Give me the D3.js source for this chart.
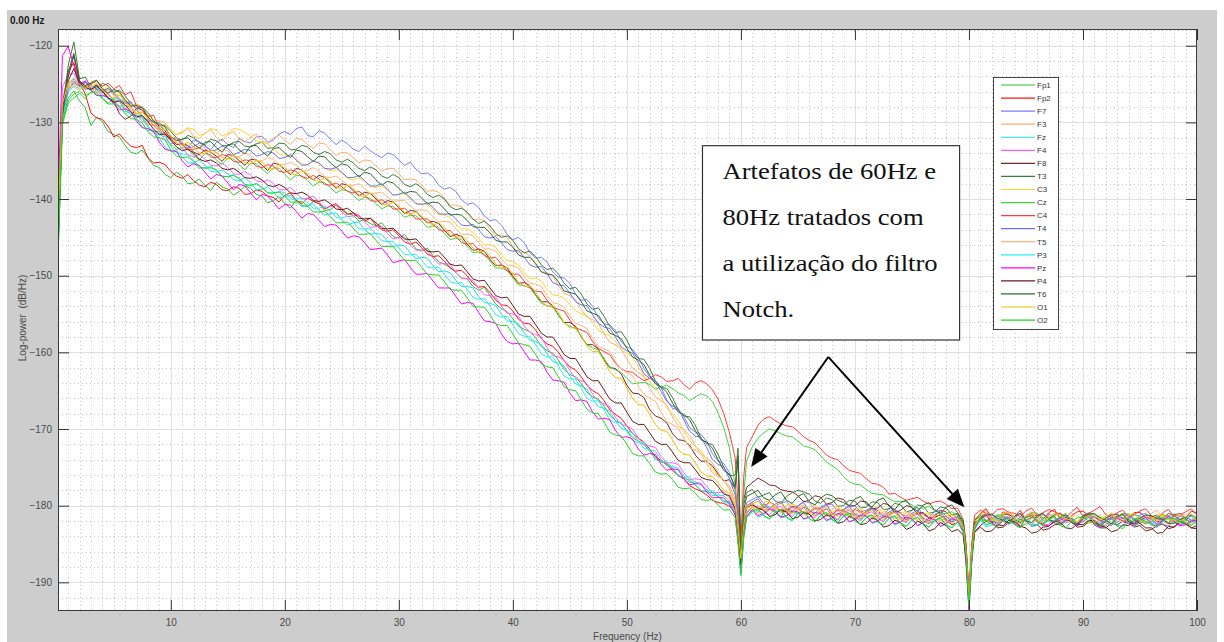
<!DOCTYPE html>
<html>
<head>
<meta charset="utf-8">
<script src="https://cdn.jsdelivr.net/npm/d3@7"></script>
<style>
  html, body { margin: 0; padding: 0; background: #ffffff; }
  svg { display: block; }
</style>
</head>
<body>
<svg id="chart" width="1224" height="642"></svg>
<script>
// Frequency bins (Hz) shared by every channel spectrum
const freqs = [0.11,0.5,1,1.5,
  2,2.5,3,3.5,4,4.5,5,5.5,6,6.5,
  7,7.5,8,8.5,9,9.5,10,10.5,11,11.5,
  12,12.5,13,13.5,14,14.5,15,15.5,16,16.5,
  17,17.5,18,18.5,19,19.5,20,20.5,21,21.5,
  22,22.5,23,23.5,24,24.5,25,25.5,26,26.5,
  27,27.5,28,28.5,29,29.5,30,30.5,31,31.5,
  32,32.5,33,33.5,34,34.5,35,35.5,36,36.5,
  37,37.5,38,38.5,39,39.5,40,40.5,41,41.5,
  42,42.5,43,43.5,44,44.5,45,45.5,46,46.5,
  47,47.5,48,48.5,49,49.5,50,50.5,51,51.5,
  52,52.5,53,53.5,54,54.5,55,55.5,56,56.5,
  57,57.5,58,58.5,59,
  59.5,59.75,60,60.25,60.5,
  61,61.5,62,62.5,63,63.5,64,64.5,65,65.5,
  66,66.5,67,67.5,68,68.5,69,69.5,70,70.5,
  71,71.5,72,72.5,73,73.5,74,74.5,75,75.5,
  76,76.5,77,77.5,78,78.5,79,
  79.5,79.75,80,80.25,80.5,
  81,81.5,82,82.5,83,83.5,84,84.5,85,85.5,
  86,86.5,87,87.5,88,88.5,89,89.5,90,90.5,
  91,91.5,92,92.5,93,93.5,94,94.5,95,95.5,
  96,96.5,97,97.5,98,98.5,99,99.5,100];

// Channel names and their line colours
const channelNames = ["Fp1","Fp2","F7","F3","Fz","F4","F8","T3","C3","Cz","C4","T4","T5","P3","Pz","P4","T6","O1","O2"];
const channelColors = ["#2fbf2f","#ff1010","#7b7bff","#ffad6b","#1fe0e0","#ff5cff","#7d2525","#3d7d3d","#ffd42a","#3fd43f","#ff3b3b","#6f6ff2","#ffb577","#2cecec","#ff00ff","#6a1a1a","#2b6b2b","#f0c000","#22d822"];

// Log-power spectra (dB/Hz), one value per frequency bin
const Fp1 = [-146.5,-129.8,-126.8,-125.9,
  -127.2,-128.1,-130.4,-129.3,-129.9,-131.2,-131.6,-131.9,-133.0,-133.9,
  -134.1,-133.6,-134.7,-135.6,-135.9,-136.8,-137.2,-136.5,-137.0,-138.0,
  -137.9,-137.4,-138.2,-138.9,-137.8,-138.4,-138.7,-139.5,-139.0,-138.3,
  -138.6,-139.4,-139.6,-140.5,-140.2,-139.7,-140.6,-141.2,-140.1,-140.8,
  -141.0,-140.3,-140.6,-141.5,-141.4,-140.8,-141.2,-141.9,-142.1,-142.9,
  -142.7,-143.2,-143.5,-143.1,-144.0,-144.9,-145.1,-144.6,-145.6,-146.5,
  -146.8,-146.4,-147.4,-148.2,-148.5,-148.9,-149.6,-150.3,-150.4,-151.4,
  -151.9,-151.5,-152.6,-153.7,-154.3,-154.7,-155.6,-156.6,-157.0,-157.3,
  -158.1,-159.2,-159.8,-160.1,-161.0,-162.2,-162.9,-163.2,-164.1,-165.2,
  -165.8,-166.1,-167.0,-168.2,-168.9,-169.3,-170.2,-171.1,-171.6,-172.0,
  -172.9,-173.8,-174.3,-174.5,-175.2,-176.0,-176.4,-176.7,-177.3,-178.0,
  -178.2,-178.3,-178.8,-179.4,-179.5,
  -180.6,-183.0,-187.4,-183.6,-181.0,
  -180.2,-180.9,-179.8,-180.4,-180.9,-181.5,-180.3,-180.7,-181.1,-180.2,
  -180.5,-181.3,-180.9,-180.4,-181.4,-181.9,-180.6,-181.0,-181.2,-181.8,
  -180.8,-180.5,-181.5,-182.1,-181.0,-180.7,-181.7,-182.2,-181.2,-181.0,
  -181.6,-182.3,-182.0,-181.5,-181.4,-182.1,-181.8,
  -182.6,-185.9,-192.8,-186.0,-182.3,
  -181.6,-182.5,-182.2,-181.4,-181.3,-182.0,-181.9,-182.7,-182.4,-181.6,
  -181.5,-182.2,-181.8,-181.3,-182.6,-182.0,-181.7,-182.4,-181.2,-181.6,
  -182.0,-182.8,-182.5,-181.7,-181.4,-181.1,-181.9,-182.6,-182.3,-181.8,
  -181.6,-182.4,-181.1,-181.7,-182.1,-182.5,-181.8,-181.3,-182.4];

const Fp2 = [-143.2,-127.5,-123.4,-122.2,
  -124.9,-126.3,-128.8,-129.4,-129.6,-130.5,-131.9,-131.5,-132.4,-133.1,
  -133.3,-133.0,-134.6,-135.3,-135.2,-135.5,-136.4,-137.0,-137.3,-136.8,
  -137.6,-138.2,-138.4,-137.8,-138.1,-138.8,-138.9,-138.4,-138.6,-139.4,
  -139.3,-138.8,-139.0,-139.6,-139.8,-140.4,-139.5,-139.2,-140.2,-140.6,
  -139.9,-140.3,-140.6,-141.3,-140.9,-140.6,-141.4,-142.0,-141.8,-142.2,
  -142.9,-142.5,-143.4,-144.0,-144.2,-144.0,-144.8,-145.6,-145.9,-145.6,
  -146.3,-147.2,-147.5,-147.4,-148.1,-149.0,-149.4,-149.3,-150.0,-151.0,
  -151.5,-151.4,-152.2,-153.2,-153.8,-153.9,-154.6,-155.7,-156.2,-156.3,
  -157.1,-158.2,-158.9,-159.2,-160.0,-161.1,-161.9,-162.3,-163.2,-164.3,
  -165.0,-165.4,-166.3,-167.5,-168.1,-168.6,-169.6,-170.6,-171.2,-171.7,
  -172.6,-173.6,-174.1,-174.6,-175.4,-176.1,-176.5,-177.4,-177.8,-178.1,
  -178.6,-179.3,-179.6,-179.7,-180.1,
  -180.9,-183.8,-186.5,-182.9,-180.4,
  -179.6,-180.6,-180.3,-179.5,-179.9,-180.8,-180.7,-180.1,-180.2,-181.0,
  -180.9,-180.3,-180.4,-181.3,-181.2,-180.5,-180.7,-181.5,-180.4,-180.9,
  -181.1,-180.3,-180.6,-181.4,-181.3,-180.7,-180.9,-181.8,-181.5,-180.8,
  -181.0,-181.7,-181.4,-180.6,-180.8,-181.6,-181.5,
  -182.1,-185.2,-191.6,-185.4,-181.9,
  -181.0,-180.4,-181.6,-181.9,-180.8,-181.2,-181.4,-180.6,-181.9,-181.5,
  -181.2,-181.8,-180.9,-180.5,-181.7,-181.9,-181.3,-180.8,-180.7,-181.3,
  -181.5,-182.0,-181.8,-181.2,-181.1,-181.7,-181.6,-180.9,-180.9,-181.5,
  -181.4,-182.1,-181.9,-181.0,-181.2,-181.8,-181.6,-180.7,-181.0];

const F7 = [-145.1,-128.6,-125.3,-124.6,
  -125.0,-124.6,-125.6,-125.2,-126.1,-125.5,-126.0,-126.9,-127.4,-127.6,
  -128.2,-129.2,-129.9,-129.8,-130.6,-131.6,-132.4,-132.0,-132.9,-133.4,
  -132.3,-132.5,-133.1,-133.6,-132.6,-132.2,-132.9,-133.3,-132.1,-132.5,
  -132.7,-131.9,-131.8,-132.6,-132.3,-131.5,-131.2,-131.6,-130.8,-130.6,
  -131.7,-131.9,-131.1,-131.4,-132.2,-132.9,-132.3,-132.8,-133.5,-133.8,
  -133.1,-133.7,-134.2,-134.6,-134.0,-134.2,-134.9,-135.6,-135.2,-136.1,
  -136.7,-136.6,-137.1,-138.2,-138.7,-138.5,-139.0,-140.1,-140.7,-140.5,
  -141.1,-142.2,-142.8,-142.7,-143.4,-144.6,-145.3,-145.0,-145.7,-147.0,
  -147.7,-147.6,-148.2,-149.5,-150.2,-150.3,-151.0,-152.4,-153.2,-153.1,
  -154.0,-155.5,-156.3,-156.4,-157.2,-158.6,-159.3,-159.6,-160.6,-162.1,
  -163.2,-163.7,-164.6,-166.2,-167.3,-167.5,-168.4,-169.8,-170.4,-170.7,
  -171.6,-173.2,-174.2,-174.5,-175.7,
  -177.9,-180.5,-186.2,-181.7,-179.6,
  -179.2,-178.8,-179.7,-180.2,-180.3,-179.6,-179.5,-180.3,-180.1,-179.4,
  -179.6,-180.5,-180.4,-179.9,-179.8,-180.7,-180.5,-179.9,-180.0,-180.8,
  -180.6,-180.2,-180.9,-181.3,-180.3,-180.5,-181.0,-181.4,-180.6,-180.2,
  -181.2,-181.5,-180.8,-180.6,-181.4,-181.8,-181.1,
  -182.4,-186.0,-191.8,-185.6,-182.0,
  -181.3,-182.0,-181.9,-181.2,-181.5,-182.3,-182.0,-181.5,-181.4,-181.2,
  -181.8,-182.4,-181.1,-181.5,-182.1,-181.7,-181.6,-182.2,-181.3,-180.9,
  -181.9,-182.3,-181.5,-181.8,-182.2,-181.6,-181.7,-182.3,-181.2,-181.0,
  -181.8,-182.4,-182.0,-181.3,-181.4,-182.1,-181.9,-181.2,-181.6];

const F3 = [-144.0,-128.2,-125.6,-125.0,
  -125.1,-125.7,-124.7,-124.5,-125.5,-126.1,-125.9,-126.1,-127.0,-127.8,
  -127.6,-128.0,-129.0,-129.8,-129.8,-130.0,-131.0,-131.6,-131.2,-130.8,
  -131.8,-132.1,-131.4,-130.9,-132.0,-132.4,-131.6,-131.2,-132.2,-132.6,
  -131.9,-131.5,-132.4,-132.8,-132.0,-131.7,-132.3,-132.9,-132.1,-132.2,
  -132.9,-133.4,-132.7,-132.8,-133.6,-134.3,-133.9,-134.0,-134.6,-135.3,
  -134.9,-135.0,-135.7,-136.4,-136.0,-136.0,-136.7,-137.5,-137.4,-137.5,
  -138.2,-139.0,-138.9,-139.1,-139.9,-140.8,-140.8,-141.0,-141.9,-142.7,
  -142.6,-142.8,-143.9,-144.8,-144.7,-145.0,-146.2,-147.0,-147.0,-147.4,
  -148.6,-149.5,-149.6,-150.0,-151.3,-152.3,-152.6,-153.1,-154.4,-155.4,
  -155.7,-156.2,-157.6,-158.7,-159.0,-159.5,-160.9,-162.1,-162.6,-163.2,
  -164.7,-165.8,-166.3,-166.9,-168.4,-169.6,-170.1,-170.8,-172.2,-173.3,
  -173.8,-174.4,-175.7,-176.8,-177.4,
  -179.2,-182.1,-186.0,-182.0,-179.9,
  -179.7,-180.5,-180.3,-179.6,-179.9,-180.7,-180.5,-179.8,-180.1,-180.9,
  -180.8,-180.2,-180.3,-181.1,-180.9,-180.4,-180.5,-181.3,-181.2,-180.6,
  -180.7,-181.5,-181.3,-180.8,-180.9,-181.7,-181.4,-180.9,-181.0,-181.8,
  -181.6,-181.1,-181.2,-182.0,-181.7,-181.2,-181.3,
  -182.5,-186.5,-192.1,-185.8,-182.1,
  -181.2,-180.6,-181.7,-181.9,-181.0,-180.7,-181.6,-182.1,-181.3,-180.8,
  -181.9,-182.0,-181.4,-181.3,-180.9,-181.5,-181.8,-182.1,-181.5,-180.9,
  -181.1,-181.8,-181.7,-181.0,-181.3,-182.0,-181.9,-181.2,-181.4,-181.9,
  -181.0,-180.6,-181.6,-182.2,-181.8,-181.1,-181.2,-181.9,-181.5];

const Fz = [-147.3,-129.5,-126.1,-125.2,
  -125.6,-125.1,-125.9,-126.4,-126.6,-126.2,-127.3,-128.1,-128.6,-128.7,
  -129.5,-130.6,-131.1,-131.0,-132.1,-133.2,-133.8,-133.6,-134.5,-135.3,
  -135.3,-134.9,-135.6,-136.4,-136.5,-136.2,-136.7,-137.5,-137.6,-137.2,
  -137.9,-138.8,-138.7,-138.4,-139.1,-139.9,-139.7,-139.5,-140.3,-141.0,
  -140.8,-140.6,-141.5,-142.1,-141.9,-141.8,-142.7,-143.4,-143.1,-143.0,
  -144.0,-144.6,-144.5,-144.6,-145.5,-146.2,-146.0,-146.1,-147.0,-147.8,
  -147.6,-147.7,-148.7,-149.5,-149.4,-149.6,-150.6,-151.4,-151.4,-151.6,
  -152.7,-153.5,-153.6,-153.9,-155.0,-155.9,-156.0,-156.3,-157.5,-158.4,
  -158.6,-159.0,-160.2,-161.2,-161.4,-161.8,-163.1,-164.1,-164.4,-164.8,
  -166.1,-167.1,-167.3,-167.7,-168.9,-169.9,-170.2,-170.5,-171.6,-172.5,
  -172.7,-172.9,-174.0,-174.8,-174.9,-175.1,-176.1,-177.0,-176.9,-177.1,
  -177.9,-178.7,-178.6,-178.7,-179.4,
  -181.0,-184.2,-188.9,-183.9,-181.3,
  -180.6,-181.5,-181.2,-180.5,-180.7,-181.6,-181.4,-180.8,-180.9,-181.8,
  -181.5,-180.9,-181.1,-182.0,-181.7,-181.0,-181.2,-182.1,-181.9,-181.3,
  -181.4,-182.3,-182.0,-181.4,-181.6,-182.5,-182.2,-181.5,-181.8,-182.6,
  -182.3,-181.7,-181.9,-182.7,-182.4,-181.8,-182.0,
  -183.3,-187.3,-193.4,-187.0,-182.9,
  -181.8,-182.6,-182.2,-181.3,-181.5,-182.3,-182.1,-181.5,-181.7,-182.5,
  -182.4,-181.6,-181.9,-182.3,-181.4,-181.2,-182.0,-182.6,-181.6,-181.2,
  -182.3,-182.8,-181.9,-181.6,-182.5,-182.7,-181.8,-181.2,-181.3,-182.1,
  -182.0,-182.5,-181.7,-181.4,-182.2,-182.6,-181.6,-181.4,-182.1];

const F4 = [-142.8,-125.4,-123.8,-123.6,
  -125.0,-124.6,-125.6,-126.1,-126.0,-126.2,-127.1,-127.9,-127.8,-128.0,
  -129.0,-129.9,-130.2,-130.4,-131.3,-132.3,-132.8,-132.6,-133.4,-134.2,
  -134.5,-134.2,-134.8,-135.6,-135.7,-135.3,-135.9,-136.7,-136.8,-136.4,
  -136.9,-137.6,-137.8,-137.5,-138.0,-138.8,-138.8,-138.5,-139.2,-140.0,
  -139.9,-139.6,-140.4,-141.1,-141.0,-140.8,-141.7,-142.3,-142.2,-142.1,
  -143.0,-143.7,-143.6,-143.5,-144.5,-145.2,-145.0,-145.0,-146.0,-146.7,
  -146.6,-146.7,-147.7,-148.5,-148.4,-148.5,-149.6,-150.4,-150.4,-150.6,
  -151.7,-152.5,-152.6,-152.8,-154.0,-154.9,-155.0,-155.3,-156.6,-157.4,
  -157.7,-158.0,-159.4,-160.4,-160.6,-161.0,-162.4,-163.4,-163.7,-164.1,
  -165.5,-166.4,-166.7,-167.1,-168.5,-169.4,-169.6,-170.0,-171.2,-172.1,
  -172.2,-172.4,-173.6,-174.4,-174.4,-174.6,-175.7,-176.6,-176.5,-176.6,
  -177.5,-178.3,-178.3,-178.2,-179.0,
  -180.6,-183.6,-187.8,-183.3,-180.9,
  -180.2,-180.0,-180.7,-181.2,-180.3,-180.1,-181.0,-181.4,-180.5,-180.2,
  -181.2,-181.6,-180.7,-180.4,-181.4,-181.8,-180.9,-180.6,-181.5,-182.0,
  -181.0,-180.8,-181.7,-182.1,-181.2,-180.9,-181.8,-182.2,-181.4,-181.1,
  -182.0,-182.4,-181.5,-181.2,-182.1,-182.3,-181.7,
  -182.9,-186.8,-193.2,-186.5,-182.6,
  -181.4,-181.1,-182.0,-182.5,-181.6,-181.3,-182.2,-182.4,-181.3,-181.0,
  -181.9,-182.6,-182.4,-181.8,-181.7,-182.2,-182.0,-182.5,-181.5,-181.2,
  -182.3,-182.6,-181.8,-181.3,-181.4,-182.0,-182.1,-182.4,-181.7,-181.2,
  -182.2,-182.6,-181.6,-181.3,-181.9,-182.5,-182.3,-181.9,-181.8];

const F8 = [-144.6,-127.9,-124.1,-121.3,
  -124.7,-125.3,-125.6,-125.1,-126.0,-126.8,-127.2,-128.9,-129.6,-129.2,
  -128.1,-128.4,-129.5,-130.4,-130.3,-131.1,-132.2,-132.9,-132.8,-133.0,
  -133.9,-134.2,-133.6,-133.9,-134.4,-135.1,-134.2,-134.3,-135.0,-135.6,
  -134.8,-134.9,-135.6,-136.3,-135.3,-135.5,-136.2,-136.8,-136.0,-136.2,
  -137.0,-137.5,-136.9,-137.2,-137.9,-138.6,-138.0,-138.2,-138.9,-139.6,
  -139.1,-139.3,-140.0,-140.7,-140.2,-140.4,-141.1,-141.9,-141.5,-141.6,
  -142.4,-143.1,-142.9,-143.2,-144.1,-144.9,-144.6,-144.9,-145.9,-146.7,
  -146.5,-146.8,-147.9,-148.7,-148.6,-149.0,-150.1,-151.0,-150.9,-151.3,
  -152.5,-153.4,-153.4,-153.9,-155.2,-156.1,-156.1,-156.6,-158.0,-159.0,
  -159.0,-159.6,-161.0,-162.0,-162.1,-162.8,-164.3,-165.3,-165.4,-165.9,
  -167.5,-168.3,-168.6,-169.2,-170.6,-171.4,-171.5,-172.1,-173.4,-174.2,
  -174.2,-174.8,-175.9,-176.8,-176.6,
  -177.8,-173.5,-185.5,-179.2,-177.6,
  -177.0,-176.4,-176.8,-177.3,-177.4,-177.9,-178.1,-178.2,-178.7,-179.5,
  -179.3,-178.7,-178.9,-179.8,-179.6,-179.0,-179.2,-180.1,-180.0,-179.4,
  -179.5,-180.4,-180.3,-179.7,-179.9,-180.9,-180.6,-180.0,-180.2,-181.1,
  -180.9,-181.6,-181.5,-181.2,-181.9,-182.5,-182.2,
  -182.9,-186.3,-192.0,-186.9,-183.4,
  -182.6,-182.0,-182.1,-182.9,-182.8,-182.2,-182.3,-181.8,-181.9,-182.7,
  -182.5,-183.2,-183.0,-182.5,-182.4,-181.9,-182.0,-182.8,-182.7,-182.1,
  -182.2,-182.9,-182.9,-182.3,-182.5,-182.0,-182.0,-182.8,-182.6,-183.3,
  -183.1,-182.6,-182.4,-183.0,-182.8,-182.1,-182.2,-182.9,-182.6];

const T3 = [-146.0,-129.0,-122.6,-119.5,
  -124.3,-124.1,-125.4,-125.6,-124.9,-125.2,-126.1,-125.8,-126.5,-127.6,
  -128.2,-128.0,-128.7,-129.8,-130.5,-130.4,-131.2,-132.0,-132.3,-131.7,
  -132.0,-132.6,-132.9,-132.2,-132.4,-133.0,-133.1,-132.6,-132.5,-133.1,
  -133.2,-132.8,-132.6,-133.4,-133.3,-132.7,-132.8,-133.6,-133.5,-133.0,
  -133.2,-133.9,-134.2,-133.8,-134.1,-134.9,-135.2,-134.8,-135.3,-136.0,
  -136.3,-135.8,-136.2,-137.0,-137.3,-136.8,-137.2,-138.1,-138.4,-138.0,
  -138.5,-139.4,-139.8,-139.5,-140.0,-141.0,-141.4,-141.2,-141.7,-142.6,
  -143.2,-142.9,-143.5,-144.5,-145.0,-144.8,-145.4,-146.5,-147.0,-146.8,
  -147.5,-148.6,-149.2,-149.0,-149.8,-151.0,-151.7,-151.5,-152.4,-153.7,
  -154.4,-154.2,-155.3,-156.6,-157.4,-157.3,-158.4,-159.9,-160.8,-160.9,
  -162.1,-163.7,-164.6,-164.7,-165.9,-167.5,-168.3,-168.4,-169.5,-171.2,
  -171.9,-172.0,-173.3,-175.0,-176.1,
  -176.0,-172.5,-186.8,-179.8,-178.3,
  -177.9,-178.9,-178.6,-178.3,-179.4,-179.7,-178.8,-178.3,-178.0,-178.2,
  -178.5,-179.4,-179.7,-179.0,-179.2,-180.1,-180.0,-179.3,-179.4,-180.3,
  -180.2,-179.5,-179.6,-180.5,-180.4,-179.7,-179.9,-180.8,-180.6,-179.9,
  -180.1,-181.0,-180.8,-180.2,-180.3,-181.2,-181.0,
  -182.3,-186.2,-192.6,-185.7,-181.8,
  -181.4,-181.0,-182.0,-182.3,-181.2,-181.1,-181.8,-182.2,-181.5,-181.3,
  -182.1,-182.4,-181.7,-181.2,-181.0,-181.6,-181.9,-182.4,-181.3,-181.0,
  -182.2,-182.5,-181.6,-181.2,-181.1,-181.7,-181.8,-182.4,-182.0,-181.4,
  -181.5,-181.2,-181.9,-182.3,-181.2,-181.0,-181.7,-182.2,-181.9];

const C3 = [-143.5,-128.0,-125.2,-124.9,
  -125.5,-124.9,-125.2,-125.8,-125.9,-125.3,-126.6,-126.2,-127.5,-127.9,
  -128.8,-128.6,-129.6,-130.3,-130.6,-130.2,-130.9,-131.6,-131.4,-130.7,
  -130.9,-131.7,-131.5,-130.8,-131.0,-131.8,-131.4,-130.8,-130.9,-131.3,
  -131.8,-132.4,-132.6,-132.8,-133.5,-134.1,-134.4,-134.3,-134.8,-135.4,
  -135.6,-135.0,-135.4,-136.0,-136.3,-136.2,-136.6,-137.3,-137.5,-137.2,
  -137.7,-138.4,-138.5,-138.3,-138.8,-139.5,-139.4,-139.3,-140.0,-140.6,
  -140.6,-140.7,-141.5,-142.0,-142.1,-142.4,-143.3,-143.9,-143.9,-144.3,
  -145.2,-146.0,-145.9,-146.3,-147.3,-148.0,-148.2,-148.6,-149.6,-150.4,
  -150.3,-150.7,-151.8,-152.5,-152.6,-152.9,-153.8,-154.6,-155.0,-155.2,
  -156.1,-157.1,-157.6,-157.8,-158.6,-159.7,-160.1,-160.6,-161.9,-163.1,
  -163.9,-164.5,-165.8,-167.2,-168.1,-168.9,-170.2,-171.5,-172.3,-172.8,
  -174.0,-175.3,-176.1,-176.6,-177.8,
  -179.6,-182.5,-186.6,-182.7,-180.3,
  -180.1,-180.5,-179.6,-179.3,-180.4,-180.8,-179.9,-179.7,-180.6,-181.0,
  -180.2,-179.9,-180.9,-181.2,-180.4,-180.1,-181.1,-181.4,-180.6,-180.3,
  -181.3,-181.6,-180.8,-180.5,-181.4,-181.7,-181.0,-180.7,-181.6,-181.9,
  -181.1,-180.9,-181.8,-182.1,-181.3,-181.1,-181.9,
  -183.0,-186.8,-192.4,-186.6,-182.8,
  -181.5,-182.2,-181.9,-181.3,-181.3,-181.8,-182.0,-182.4,-181.6,-181.0,
  -181.2,-181.6,-181.8,-182.3,-182.1,-181.6,-181.4,-181.3,-181.9,-182.4,
  -181.6,-181.2,-182.2,-182.6,-181.5,-181.0,-181.1,-181.7,-181.8,-182.3,
  -182.0,-181.4,-181.3,-181.9,-181.7,-181.2,-182.1,-182.4,-181.6];

const Cz = [-147.8,-130.4,-127.2,-126.3,
  -125.9,-126.5,-126.1,-125.7,-126.8,-127.5,-127.0,-127.3,-128.4,-129.0,
  -129.1,-129.5,-130.6,-131.2,-131.2,-131.8,-132.9,-133.5,-133.3,-133.4,
  -134.3,-134.9,-134.1,-134.2,-134.9,-135.5,-134.7,-134.8,-135.5,-136.2,
  -135.3,-135.4,-136.1,-136.7,-135.9,-136.0,-136.8,-137.5,-136.9,-137.0,
  -137.6,-138.3,-137.8,-137.9,-138.5,-139.2,-138.8,-138.9,-139.5,-140.2,
  -139.8,-139.9,-140.6,-141.3,-140.9,-141.0,-141.6,-142.4,-142.1,-142.2,
  -142.9,-143.7,-143.5,-143.7,-144.5,-145.3,-145.1,-145.3,-146.2,-147.0,
  -146.9,-147.2,-148.1,-149.0,-149.0,-149.3,-150.3,-151.2,-151.3,-151.6,
  -152.6,-153.6,-153.9,-154.1,-155.1,-156.2,-156.6,-156.9,-157.9,-159.0,
  -159.4,-159.7,-160.8,-161.9,-162.3,-162.6,-163.4,-164.1,-164.0,-163.9,
  -164.2,-164.8,-164.5,-164.3,-164.7,-165.3,-165.6,-166.3,-165.8,-165.4,
  -165.7,-166.4,-167.9,-169.8,-172.5,
  -177.5,-181.5,-185.8,-178.5,-174.2,
  -172.3,-171.2,-170.5,-170.0,-170.2,-170.6,-170.9,-171.0,-171.6,-172.2,
  -172.4,-172.7,-173.5,-174.3,-174.8,-175.3,-176.2,-176.9,-177.2,-177.3,
  -177.9,-178.4,-178.5,-178.6,-179.1,-179.5,-179.4,-179.5,-179.9,-180.4,
  -180.3,-180.1,-180.6,-181.1,-181.0,-180.8,-181.3,
  -182.4,-185.7,-192.3,-185.3,-181.8,
  -181.1,-181.9,-181.7,-181.2,-181.3,-181.8,-181.9,-182.3,-181.5,-180.9,
  -181.0,-181.6,-181.8,-182.1,-181.4,-181.0,-182.0,-182.5,-181.6,-181.1,
  -181.2,-181.5,-181.9,-182.3,-181.5,-181.0,-181.1,-181.8,-181.7,-182.3,
  -182.1,-181.5,-181.6,-181.0,-181.3,-181.9,-181.9,-182.2,-181.5];

const C4 = [-144.3,-128.4,-125.0,-124.3,
  -125.1,-125.6,-125.0,-124.6,-125.3,-124.9,-125.6,-125.2,-126.4,-126.0,
  -127.9,-128.4,-129.2,-129.1,-130.8,-131.4,-132.0,-132.1,-132.9,-133.6,
  -133.5,-133.3,-133.8,-134.5,-134.6,-134.2,-134.4,-135.1,-135.2,-134.9,
  -135.0,-135.7,-135.9,-135.5,-135.7,-136.4,-136.5,-136.2,-136.4,-137.1,
  -137.3,-136.9,-137.4,-138.1,-138.2,-137.9,-138.4,-139.0,-139.2,-139.0,
  -139.5,-140.2,-140.3,-140.1,-140.6,-141.3,-141.3,-141.2,-141.9,-142.6,
  -142.6,-142.6,-143.3,-144.0,-144.2,-144.1,-144.9,-145.7,-145.9,-145.8,
  -146.6,-147.4,-147.7,-147.6,-148.5,-149.4,-149.8,-149.8,-150.7,-151.6,
  -152.0,-152.1,-153.2,-154.1,-154.4,-154.6,-155.8,-156.8,-157.1,-157.4,
  -158.6,-159.5,-159.9,-160.3,-161.4,-162.2,-162.5,-162.6,-163.2,-163.7,
  -163.4,-162.9,-163.2,-163.8,-163.7,-163.4,-164.2,-164.8,-164.0,-163.7,
  -164.1,-164.9,-166.1,-168.0,-170.5,
  -173.8,-179.8,-184.6,-176.2,-172.4,
  -171.0,-169.5,-168.7,-168.4,-168.9,-169.3,-169.6,-169.7,-170.3,-171.0,
  -171.5,-171.8,-172.6,-173.4,-173.8,-174.0,-174.8,-175.4,-175.6,-175.8,
  -176.5,-177.1,-177.2,-177.6,-178.5,-178.4,-178.9,-179.3,-179.1,-178.9,
  -179.4,-179.8,-179.5,-179.4,-179.8,-180.4,-180.3,
  -181.8,-185.0,-191.2,-184.8,-181.2,
  -180.6,-181.0,-181.2,-180.5,-180.4,-180.9,-181.0,-181.4,-180.7,-180.3,
  -181.3,-180.9,-180.5,-180.8,-181.1,-181.6,-180.8,-180.2,-181.4,-181.0,
  -180.6,-180.1,-181.2,-181.5,-180.9,-180.6,-181.5,-181.1,-180.7,-180.4,
  -181.3,-181.8,-180.9,-180.5,-181.4,-181.2,-180.8,-180.4,-181.2];

const T4 = [-145.6,-128.9,-125.8,-124.8,
  -125.3,-124.8,-125.0,-125.7,-125.9,-125.6,-126.3,-127.1,-127.5,-127.3,
  -128.4,-129.3,-129.7,-129.9,-130.9,-131.8,-132.2,-132.0,-132.6,-133.3,
  -133.2,-132.7,-133.0,-133.7,-133.6,-133.1,-133.4,-134.2,-133.9,-133.5,
  -133.7,-134.4,-134.2,-133.8,-134.0,-134.7,-134.6,-134.2,-134.9,-135.6,
  -135.5,-135.0,-135.3,-136.0,-136.1,-135.9,-136.5,-137.2,-137.2,-136.9,
  -137.6,-138.3,-138.3,-138.0,-138.7,-139.5,-139.4,-139.1,-139.8,-140.6,
  -140.7,-140.5,-141.1,-141.9,-142.0,-141.9,-142.6,-143.4,-143.5,-143.3,
  -144.0,-144.9,-145.1,-144.9,-145.7,-146.6,-146.8,-146.7,-147.6,-148.6,
  -148.9,-148.8,-149.7,-150.9,-151.2,-151.3,-152.3,-153.4,-153.8,-153.9,
  -155.1,-156.2,-156.7,-156.9,-158.0,-159.3,-159.8,-160.1,-161.3,-162.8,
  -163.4,-163.8,-165.1,-166.4,-167.0,-167.3,-168.8,-170.3,-170.9,-171.1,
  -172.4,-174.0,-174.6,-175.0,-176.5,
  -178.6,-181.2,-187.0,-182.4,-180.1,
  -179.5,-179.1,-180.2,-180.4,-179.8,-179.4,-180.6,-180.9,-180.0,-179.6,
  -180.7,-181.0,-180.2,-179.8,-181.0,-181.2,-180.5,-180.1,-181.1,-181.4,
  -180.7,-180.3,-181.3,-181.6,-180.8,-180.5,-181.5,-181.8,-181.0,-180.6,
  -181.7,-182.0,-181.2,-180.8,-181.8,-182.1,-181.4,
  -182.8,-186.4,-192.2,-186.1,-182.5,
  -181.8,-181.3,-181.2,-181.7,-182.0,-182.4,-181.6,-181.0,-182.3,-182.5,
  -181.5,-181.1,-181.9,-182.3,-182.4,-181.9,-181.7,-182.3,-182.1,-181.5,
  -181.4,-181.9,-182.2,-182.6,-181.8,-181.2,-181.3,-181.8,-182.0,-182.4,
  -181.7,-181.3,-182.4,-182.7,-181.9,-181.4,-181.5,-181.9,-182.1];

const T5 = [-143.9,-127.7,-125.3,-125.4,
  -125.8,-125.2,-125.5,-126.0,-126.3,-125.8,-126.4,-127.3,-127.9,-127.6,
  -128.3,-129.3,-130.1,-129.9,-130.7,-131.8,-132.4,-132.0,-132.6,-133.4,
  -133.5,-133.0,-133.3,-134.0,-134.0,-133.5,-133.7,-134.5,-134.5,-134.0,
  -134.3,-135.0,-135.0,-134.6,-134.8,-135.5,-135.5,-135.2,-135.6,-136.3,
  -136.3,-135.9,-136.4,-137.1,-137.2,-137.0,-137.5,-138.2,-138.2,-138.0,
  -138.6,-139.3,-139.2,-139.1,-139.7,-140.3,-140.2,-140.2,-140.9,-141.5,
  -141.4,-141.5,-142.3,-143.0,-142.9,-143.0,-143.9,-144.6,-144.6,-144.8,
  -145.7,-146.5,-146.5,-146.8,-147.8,-148.6,-148.7,-149.0,-150.1,-151.0,
  -151.1,-151.4,-152.6,-153.5,-153.7,-154.1,-155.3,-156.2,-156.5,-156.9,
  -158.2,-159.2,-159.5,-159.9,-161.2,-162.2,-162.6,-163.1,-164.4,-165.5,
  -166.0,-166.4,-167.8,-169.0,-169.4,-169.9,-171.2,-172.4,-172.8,-173.2,
  -174.5,-175.7,-176.2,-176.6,-177.9,
  -179.8,-182.8,-187.2,-183.1,-180.6,
  -180.3,-181.0,-180.8,-180.3,-180.2,-180.9,-180.9,-180.4,-180.5,-181.2,
  -181.1,-180.5,-180.6,-181.4,-181.3,-180.7,-180.8,-181.6,-181.4,-180.9,
  -181.0,-181.8,-181.6,-181.0,-181.2,-182.0,-181.8,-181.2,-181.3,-182.1,
  -182.0,-181.4,-181.5,-182.3,-182.1,-181.5,-181.7,
  -183.2,-187.1,-192.9,-186.4,-182.9,
  -181.9,-181.5,-181.4,-182.0,-182.1,-182.5,-181.7,-181.2,-182.3,-182.6,
  -181.6,-181.2,-182.0,-182.4,-181.5,-181.3,-182.2,-182.6,-181.8,-181.4,
  -181.3,-181.7,-182.1,-182.4,-181.7,-181.2,-182.4,-182.8,-181.9,-181.4,
  -181.5,-181.9,-182.0,-182.5,-181.6,-181.1,-182.3,-182.5,-181.8];

const P3 = [-145.0,-128.3,-124.9,-124.2,
  -125.2,-125.8,-125.5,-125.4,-126.3,-127.0,-126.8,-127.0,-128.1,-129.0,
  -129.0,-129.3,-130.5,-131.4,-131.6,-131.9,-133.1,-134.0,-134.1,-134.2,
  -135.2,-136.0,-135.9,-135.7,-136.3,-137.1,-137.1,-136.8,-137.4,-138.2,
  -138.3,-138.0,-138.5,-139.2,-139.3,-139.0,-139.2,-140.0,-140.0,-139.8,
  -140.4,-141.2,-141.2,-140.9,-141.6,-142.4,-142.5,-142.2,-143.0,-143.9,
  -143.9,-143.8,-144.6,-145.4,-145.6,-145.5,-146.4,-147.2,-147.3,-147.2,
  -148.0,-148.9,-149.0,-148.9,-149.8,-150.8,-151.0,-150.9,-151.8,-152.8,
  -153.1,-153.0,-154.0,-155.1,-155.4,-155.3,-156.4,-157.6,-157.9,-157.9,
  -159.0,-160.2,-160.6,-160.6,-161.8,-163.1,-163.5,-163.5,-164.7,-166.0,
  -166.4,-166.3,-167.5,-168.8,-169.2,-169.1,-170.3,-171.5,-171.8,-171.7,
  -172.9,-174.0,-174.3,-174.2,-175.1,-176.1,-176.3,-176.2,-177.2,-178.0,
  -178.1,-178.0,-178.8,-179.6,-179.7,
  -181.3,-184.8,-189.2,-184.4,-181.6,
  -180.8,-180.5,-181.3,-181.8,-180.9,-180.6,-181.6,-182.0,-181.1,-180.8,
  -181.7,-182.1,-181.3,-180.9,-181.9,-182.3,-181.4,-181.1,-182.0,-182.4,
  -181.6,-181.2,-182.2,-182.5,-181.7,-181.4,-182.3,-182.7,-181.9,-181.5,
  -182.4,-182.8,-182.0,-181.7,-182.5,-182.9,-182.1,
  -183.6,-187.9,-193.5,-187.4,-183.2,
  -181.9,-182.8,-182.5,-181.8,-181.7,-182.4,-182.3,-181.6,-181.8,-182.7,
  -182.6,-181.9,-182.1,-182.2,-181.6,-181.4,-182.2,-182.7,-181.8,-181.5,
  -182.5,-182.9,-182.0,-181.6,-181.5,-182.1,-182.3,-182.8,-181.9,-181.6,
  -182.6,-182.7,-182.1,-181.5,-181.7,-182.3,-182.4,-182.2,-182.0];

const Pz = [-140.1,-121.3,-120.1,-122.6,
  -125.3,-124.6,-125.8,-126.5,-126.5,-126.7,-127.6,-128.4,-128.2,-128.6,
  -129.9,-130.7,-130.8,-131.2,-132.6,-133.5,-133.7,-133.8,-135.0,-135.8,
  -135.4,-135.6,-136.5,-137.4,-136.8,-137.0,-137.9,-138.8,-138.1,-138.3,
  -139.2,-140.1,-139.4,-139.6,-140.4,-141.3,-140.7,-140.8,-141.6,-142.5,
  -141.9,-142.0,-142.8,-143.6,-143.3,-143.4,-144.2,-145.1,-144.8,-144.9,
  -145.7,-146.6,-146.5,-146.4,-147.3,-148.3,-148.1,-147.9,-148.9,-149.8,
  -149.8,-149.7,-150.7,-151.6,-151.6,-151.6,-152.7,-153.7,-153.5,-153.6,
  -154.8,-155.9,-156.0,-156.2,-157.6,-158.6,-158.9,-158.8,-159.9,-161.0,
  -161.0,-161.2,-162.6,-163.6,-163.7,-163.9,-165.3,-166.3,-166.2,-166.4,
  -167.8,-168.7,-168.6,-168.8,-170.2,-171.1,-171.0,-171.3,-172.6,-173.4,
  -173.2,-173.3,-174.6,-175.4,-175.2,-175.3,-176.5,-177.3,-177.1,-177.2,
  -178.2,-179.0,-178.9,-179.0,-179.8,
  -181.2,-184.5,-188.7,-184.0,-181.4,
  -180.5,-181.3,-181.0,-180.4,-180.6,-181.5,-181.3,-180.7,-180.8,-181.7,
  -181.5,-180.9,-181.0,-181.9,-181.6,-181.0,-181.2,-182.1,-181.8,-181.2,
  -181.3,-182.2,-182.0,-181.4,-181.5,-182.4,-182.1,-181.5,-181.7,-182.6,
  -182.2,-181.6,-181.8,-182.7,-182.3,-181.7,-181.9,
  -183.4,-187.5,-193.6,-187.2,-183.0,
  -181.6,-181.2,-182.3,-182.7,-181.8,-181.5,-182.4,-182.8,-181.5,-181.1,
  -182.0,-182.5,-182.6,-182.1,-181.9,-181.5,-182.2,-182.7,-181.7,-181.3,
  -182.5,-182.9,-182.0,-181.6,-181.6,-182.1,-182.3,-182.7,-181.9,-181.5,
  -182.4,-182.8,-181.8,-181.4,-182.1,-182.6,-182.5,-182.0,-181.9];

const P4 = [-144.9,-128.1,-124.6,-123.0,
  -124.9,-125.5,-125.7,-125.3,-125.9,-126.8,-127.4,-127.2,-127.7,-128.6,
  -129.3,-129.1,-129.9,-130.9,-131.6,-131.5,-132.3,-133.2,-133.7,-133.5,
  -134.0,-134.8,-135.1,-134.9,-135.3,-136.0,-136.2,-136.0,-136.5,-137.2,
  -137.3,-137.1,-137.5,-138.2,-138.4,-138.1,-138.5,-139.2,-139.3,-139.1,
  -139.5,-140.2,-140.3,-140.1,-140.6,-141.3,-141.4,-141.2,-141.8,-142.5,
  -142.6,-142.5,-143.1,-143.8,-143.9,-143.8,-144.5,-145.2,-145.3,-145.2,
  -146.0,-146.8,-146.9,-146.8,-147.6,-148.5,-148.7,-148.6,-149.5,-150.4,
  -150.7,-150.6,-151.6,-152.6,-152.9,-152.8,-153.9,-155.0,-155.3,-155.3,
  -156.4,-157.5,-158.0,-158.0,-159.1,-160.3,-160.8,-160.8,-162.0,-163.2,
  -163.7,-163.7,-164.9,-166.1,-166.6,-166.6,-167.8,-169.0,-169.4,-169.4,
  -170.5,-171.6,-172.0,-172.0,-173.0,-174.1,-174.4,-174.4,-175.3,-176.3,
  -176.6,-176.7,-177.5,-178.5,-178.7,
  -180.4,-183.3,-187.6,-182.8,-180.2,
  -179.9,-180.3,-180.6,-181.4,-181.2,-180.5,-180.8,-181.7,-181.5,-180.9,
  -181.1,-182.0,-181.8,-181.2,-181.4,-182.3,-182.1,-181.4,-181.7,-182.5,
  -182.3,-181.6,-181.9,-182.8,-182.6,-181.9,-182.2,-183.1,-182.8,-182.0,
  -182.4,-183.3,-183.0,-182.2,-182.6,-183.4,-183.1,
  -183.8,-187.0,-192.6,-186.7,-183.5,
  -182.8,-183.4,-183.3,-182.5,-182.6,-181.9,-182.1,-182.7,-182.9,-183.6,
  -183.4,-182.8,-182.7,-182.0,-182.2,-182.9,-183.0,-182.4,-182.5,-181.9,
  -182.0,-182.6,-182.8,-183.4,-183.2,-182.5,-182.6,-181.9,-182.3,-182.9,
  -182.9,-183.6,-183.5,-182.7,-182.8,-182.1,-182.4,-182.9,-183.0];

const T6 = [-146.4,-129.2,-123.5,-121.0,
  -124.6,-125.2,-124.9,-124.5,-125.6,-126.2,-125.7,-126.0,-127.1,-127.9,
  -127.8,-128.1,-129.3,-130.0,-130.1,-130.6,-131.9,-132.4,-132.2,-132.0,
  -132.8,-133.4,-132.6,-132.5,-133.3,-133.9,-132.9,-132.8,-133.6,-134.1,
  -133.1,-133.0,-133.8,-134.4,-133.4,-133.3,-134.0,-134.6,-133.6,-133.8,
  -134.5,-135.1,-134.4,-134.5,-135.3,-135.9,-135.4,-135.6,-136.4,-137.1,
  -136.5,-136.7,-137.5,-138.2,-137.7,-137.9,-138.6,-139.3,-139.0,-139.1,
  -139.9,-140.6,-140.4,-140.5,-141.3,-142.1,-142.0,-142.1,-142.8,-143.6,
  -143.7,-143.7,-144.4,-145.4,-145.6,-145.6,-146.3,-147.3,-147.6,-147.6,
  -148.4,-149.5,-149.8,-149.9,-150.8,-152.0,-152.2,-152.4,-153.4,-154.6,
  -154.9,-155.2,-156.3,-157.5,-157.8,-158.2,-159.5,-160.6,-161.0,-161.6,
  -163.0,-164.1,-164.5,-165.2,-166.6,-167.8,-168.1,-168.8,-170.2,-171.4,
  -171.7,-172.5,-174.0,-175.4,-175.9,
  -177.5,-174.0,-187.5,-180.6,-178.8,
  -178.4,-178.0,-179.0,-179.3,-178.6,-178.2,-179.3,-179.7,-178.8,-178.4,
  -179.5,-179.9,-179.0,-178.5,-178.7,-179.3,-179.6,-180.0,-179.1,-178.8,
  -179.8,-180.2,-179.3,-179.0,-180.1,-180.5,-179.6,-179.3,-180.3,-180.7,
  -179.9,-179.6,-180.6,-181.0,-180.2,-179.9,-180.9,
  -182.0,-185.8,-193.0,-186.3,-182.2,
  -181.7,-181.2,-181.1,-181.6,-181.9,-182.3,-181.4,-181.0,-182.0,-182.2,
  -181.3,-181.0,-181.8,-182.1,-181.6,-181.2,-182.2,-182.5,-181.5,-181.1,
  -181.0,-181.6,-181.9,-182.4,-181.4,-181.1,-182.1,-182.4,-181.6,-181.2,
  -181.3,-181.7,-181.8,-182.3,-182.3,-181.8,-181.5,-181.2,-181.7];

const O1 = [-143.7,-127.6,-124.8,-124.4,
  -125.0,-125.6,-125.3,-124.9,-125.7,-126.5,-126.9,-126.4,-127.3,-128.3,
  -128.9,-128.7,-129.4,-130.4,-131.0,-130.9,-131.8,-132.7,-133.0,-132.6,
  -133.2,-134.0,-134.1,-133.6,-133.9,-134.6,-134.8,-134.3,-134.6,-135.3,
  -135.4,-135.0,-135.2,-136.0,-136.1,-135.6,-135.9,-136.7,-136.8,-136.3,
  -136.7,-137.5,-137.7,-137.2,-137.6,-138.4,-138.7,-138.2,-138.6,-139.5,
  -139.7,-139.2,-139.7,-140.6,-140.8,-140.4,-140.9,-141.8,-142.0,-141.7,
  -142.2,-143.0,-143.4,-143.1,-143.7,-144.7,-145.0,-144.8,-145.4,-146.4,
  -146.9,-146.8,-147.4,-148.5,-149.0,-148.9,-149.7,-150.9,-151.4,-151.3,
  -152.1,-153.3,-154.0,-153.9,-154.8,-156.1,-156.8,-156.8,-157.8,-159.2,
  -159.9,-159.9,-161.1,-162.5,-163.3,-163.4,-164.6,-166.0,-166.8,-166.9,
  -168.1,-169.4,-170.2,-170.3,-171.4,-172.7,-173.3,-173.4,-174.4,-175.6,
  -176.1,-176.2,-177.0,-178.0,-178.4,
  -180.0,-183.1,-186.9,-182.6,-180.2,
  -179.8,-179.4,-180.4,-180.7,-180.0,-179.6,-180.7,-181.0,-180.3,-179.9,
  -181.0,-181.3,-180.5,-180.1,-181.1,-181.4,-180.7,-180.4,-181.3,-181.6,
  -180.9,-180.5,-181.5,-181.8,-181.1,-180.8,-181.7,-182.0,-181.3,-180.9,
  -181.8,-182.1,-181.4,-181.1,-182.0,-182.3,-181.6,
  -182.7,-186.0,-191.9,-185.9,-182.6,
  -181.3,-181.0,-181.8,-182.1,-181.1,-180.8,-181.7,-182.0,-181.4,-181.1,
  -182.0,-182.3,-181.5,-181.0,-181.2,-181.7,-181.9,-182.2,-181.6,-181.3,
  -182.2,-181.8,-181.4,-181.0,-181.8,-182.1,-181.3,-181.0,-182.0,-182.3,
  -181.7,-181.3,-181.2,-181.8,-181.9,-182.2,-181.5,-181.1,-181.8];

const O2 = [-147.0,-130.1,-127.5,-126.8,
  -126.2,-126.9,-126.0,-126.2,-126.9,-127.6,-127.6,-127.9,-128.9,-129.5,
  -129.6,-130.1,-131.2,-131.9,-132.0,-132.3,-133.6,-134.4,-134.6,-134.5,
  -135.0,-135.8,-136.0,-135.9,-136.2,-137.0,-137.1,-136.9,-137.3,-138.1,
  -138.2,-138.0,-138.5,-139.2,-139.2,-139.1,-139.6,-140.4,-140.4,-140.3,
  -140.9,-141.7,-141.7,-141.6,-142.3,-143.1,-143.1,-143.0,-143.8,-144.6,
  -144.6,-144.5,-145.4,-146.2,-146.2,-146.2,-147.1,-148.0,-148.0,-148.0,
  -148.9,-149.8,-149.9,-149.9,-150.8,-151.8,-151.9,-151.9,-152.9,-154.0,
  -154.1,-154.1,-155.1,-156.3,-156.5,-156.5,-157.6,-158.8,-159.0,-159.2,
  -160.3,-161.5,-161.9,-162.0,-163.2,-164.5,-164.9,-165.0,-166.2,-167.4,
  -167.9,-168.0,-169.1,-170.4,-170.8,-170.9,-172.0,-173.2,-173.5,-173.5,
  -174.5,-175.6,-175.9,-175.8,-176.6,-177.6,-177.8,-177.7,-178.4,-179.2,
  -179.3,-179.2,-179.9,-180.6,-180.5,
  -181.6,-184.9,-189.0,-183.8,-181.5,
  -180.7,-180.4,-181.3,-181.7,-180.8,-180.5,-181.5,-181.9,-181.0,-180.7,
  -181.7,-182.1,-181.2,-180.9,-181.8,-182.2,-181.3,-181.0,-182.0,-182.4,
  -181.5,-181.2,-182.1,-182.5,-181.6,-181.3,-182.3,-182.7,-181.8,-181.5,
  -182.4,-182.8,-181.9,-181.6,-182.5,-182.9,-182.1,
  -183.1,-186.5,-193.1,-186.9,-182.8,
  -181.7,-182.0,-182.4,-182.8,-181.9,-181.6,-182.5,-182.9,-181.6,-181.3,
  -182.2,-182.6,-181.8,-181.5,-182.6,-182.9,-182.0,-181.6,-181.5,-182.0,
  -182.3,-182.7,-181.9,-181.5,-182.7,-183.0,-182.1,-181.7,-181.6,-182.1,
  -182.4,-182.8,-182.0,-181.6,-181.7,-182.1,-182.3,-182.6,-182.0];

// Axis ticks
const xTicks = [10,20,30,40,50,60,70,80,90,100];
const yTicks = [-190,-180,-170,-160,-150,-140,-130,-120];

// Annotation text lines
const noteLines = ["Artefatos de 60Hz e", "80Hz tratados com", "a utilização do filtro", "Notch."];

// ---------------------------------------------------------------
const spectra = {Fp1, Fp2, F7, F3, Fz, F4, F8, T3, C3, Cz, C4, T4, T5, P3, Pz, P4, T6, O1, O2};

const W = 1224, H = 642;
const plot = {left: 58, right: 1197, top: 29, bottom: 611};
const sans = "'Liberation Sans', Arial, Helvetica, sans-serif";

const svg = d3.select("#chart");

const x = d3.scaleLinear().domain([0.11, 100]).range([plot.left, plot.right]);
const y = d3.scaleLinear().domain([-193.74, -117.82]).range([plot.bottom, plot.top]);

// figure background
svg.append("rect").attr("width", W).attr("height", H).attr("fill", "#ffffff");
svg.append("rect").attr("x", 7).attr("y", 10).attr("width", 1210).attr("height", H - 10).attr("fill", "#cdcdcd");

svg.append("text")
  .attr("x", 10).attr("y", 24)
  .attr("font-family", sans).attr("font-size", 10).attr("font-weight", "bold")
  .attr("fill", "#1a1a1a")
  .text("0.00 Hz");

// plot area
svg.append("rect")
  .attr("x", plot.left).attr("y", plot.top)
  .attr("width", plot.right - plot.left).attr("height", plot.bottom - plot.top)
  .attr("fill", "#ffffff");

// grid: minor dotted, major solid
const grid = svg.append("g").attr("shape-rendering", "crispEdges");
const minorX = d3.range(1, 100).filter(v => v % 10 !== 0);
const minorY = d3.range(-192, -117, 2).filter(v => v % 10 !== 0);

grid.selectAll("line.mx").data(minorX).join("line")
  .attr("x1", d => Math.round(x(d)) + 0.5).attr("x2", d => Math.round(x(d)) + 0.5)
  .attr("y1", plot.top).attr("y2", plot.bottom)
  .attr("stroke", "#c4c4c4").attr("stroke-width", 1).attr("stroke-dasharray", "1,3");
grid.selectAll("line.my").data(minorY).join("line")
  .attr("y1", d => Math.round(y(d)) + 0.5).attr("y2", d => Math.round(y(d)) + 0.5)
  .attr("x1", plot.left).attr("x2", plot.right)
  .attr("stroke", "#c4c4c4").attr("stroke-width", 1).attr("stroke-dasharray", "1,3");
grid.selectAll("line.gx").data(xTicks.filter(v => v < 100)).join("line")
  .attr("x1", d => Math.round(x(d)) + 0.5).attr("x2", d => Math.round(x(d)) + 0.5)
  .attr("y1", plot.top).attr("y2", plot.bottom)
  .attr("stroke", "#e0e0e0").attr("stroke-width", 1.5);
grid.selectAll("line.gy").data(yTicks).join("line")
  .attr("y1", d => Math.round(y(d)) + 0.5).attr("y2", d => Math.round(y(d)) + 0.5)
  .attr("x1", plot.left).attr("x2", plot.right)
  .attr("stroke", "#e0e0e0").attr("stroke-width", 1.5);

// spectra
svg.append("clipPath").attr("id", "plotClip")
  .append("rect")
  .attr("x", plot.left).attr("y", plot.top)
  .attr("width", plot.right - plot.left).attr("height", plot.bottom - plot.top);

const line = d3.line().x(d => x(d[0])).y(d => y(d[1]));
const lines = svg.append("g").attr("clip-path", "url(#plotClip)");
channelNames.forEach((name, i) => {
  const vals = spectra[name];
  const n = Math.min(vals.length, freqs.length);
  const pts = vals.slice(0, n).map((v, k) => [freqs[k], v]);
  lines.append("path")
    .datum(pts)
    .attr("fill", "none")
    .attr("stroke", channelColors[i])
    .attr("stroke-width", 1)
    .attr("stroke-linejoin", "round")
    .attr("d", line);
});

// axes (ticks drawn inward on all four sides)
const tickLen = 11;
function styleAxis(g) {
  g.select(".domain").remove();
  g.selectAll(".tick line").attr("stroke", "#333333");
  g.selectAll(".tick text").attr("fill", "#4a4a4a").attr("font-family", sans).attr("font-size", 10);
}
svg.append("g").attr("transform", `translate(0,${plot.bottom})`)
  .call(d3.axisBottom(x).tickValues(xTicks).tickSize(-tickLen).tickPadding(8).tickFormat(d3.format("d")))
  .call(styleAxis);
svg.append("g").attr("transform", `translate(0,${plot.top})`)
  .call(d3.axisTop(x).tickValues(xTicks).tickSize(-tickLen).tickFormat(""))
  .call(styleAxis);
svg.append("g").attr("transform", `translate(${plot.left},0)`)
  .call(d3.axisLeft(y).tickValues(yTicks).tickSize(-tickLen).tickPadding(6).tickFormat(d3.format("d")))
  .call(styleAxis);
svg.append("g").attr("transform", `translate(${plot.right},0)`)
  .call(d3.axisRight(y).tickValues(yTicks).tickSize(-tickLen).tickFormat(""))
  .call(styleAxis);

// frame
svg.append("rect")
  .attr("x", plot.left + 0.5).attr("y", plot.top + 0.5)
  .attr("width", plot.right - plot.left - 1).attr("height", plot.bottom - plot.top - 1)
  .attr("fill", "none").attr("stroke", "#3a3a3a").attr("stroke-width", 1)
  .attr("shape-rendering", "crispEdges");

// axis titles
svg.append("text")
  .attr("x", (plot.left + plot.right) / 2).attr("y", 640)
  .attr("text-anchor", "middle")
  .attr("font-family", sans).attr("font-size", 10).attr("fill", "#4a4a4a")
  .text("Frequency (Hz)");
svg.append("text")
  .attr("transform", "translate(26,318) rotate(-90)")
  .attr("text-anchor", "middle")
  .attr("font-family", sans).attr("font-size", 10).attr("fill", "#4a4a4a")
  .attr("xml:space", "preserve")
  .text("Log-power  (dB/Hz)");

// legend
const legend = svg.append("g");
const lgTop = 77, lgRow = 13.06;
legend.append("rect")
  .attr("x", 993.5).attr("y", lgTop + 0.5).attr("width", 65).attr("height", 252)
  .attr("fill", "#ffffff").attr("stroke", "#444444").attr("stroke-width", 1);
const items = legend.selectAll("g.item").data(channelNames).join("g")
  .attr("transform", (d, i) => `translate(0,${85 + i * lgRow})`);
items.append("line")
  .attr("x1", 1001).attr("x2", 1035).attr("y1", 0).attr("y2", 0)
  .attr("stroke", (d, i) => channelColors[i]).attr("stroke-width", 1.2);
items.append("text")
  .attr("x", 1037).attr("y", 0).attr("dy", "0.35em")
  .attr("font-family", sans).attr("font-size", 8).attr("fill", "#333333")
  .text(d => d);

// annotation box with arrows towards the notch frequencies
const note = {f0: 56.63, f1: 79.18, v0: -133.04, v1: -158.39};
svg.append("rect")
  .attr("x", x(note.f0)).attr("y", y(note.v0))
  .attr("width", x(note.f1) - x(note.f0)).attr("height", y(note.v1) - y(note.v0))
  .attr("fill", "#ffffff").attr("stroke", "#333333").attr("stroke-width", 1.2);

const noteText = svg.append("g")
  .attr("transform", `translate(${x(note.f0) + 20},0) scale(1.11,1)`);
noteLines.forEach((t, i) => {
  noteText.append("text")
    .attr("x", 0).attr("y", 179.5 + i * 46)
    .attr("font-family", "'Liberation Serif', 'Times New Roman', serif")
    .attr("font-size", 24).attr("fill", "#111111")
    .text(t);
});

const apex = [67.66, -160.6];
const arrowTips = [[60.9, -174.95], [79.6, -180.2]];
arrowTips.forEach(tip => {
  const x0 = x(apex[0]), y0 = y(apex[1]);
  const x1 = x(tip[0]), y1 = y(tip[1]);
  const dx = x1 - x0, dy = y1 - y0, len = Math.hypot(dx, dy);
  const ux = dx / len, uy = dy / len;
  const headLen = 18, headHalf = 7.5;
  const bx = x1 - ux * headLen, by = y1 - uy * headLen;
  svg.append("line")
    .attr("x1", x0).attr("y1", y0).attr("x2", bx + ux * 2).attr("y2", by + uy * 2)
    .attr("stroke", "#000000").attr("stroke-width", 2);
  svg.append("polygon")
    .attr("points", [
      [x1, y1],
      [bx - uy * headHalf, by + ux * headHalf],
      [bx + uy * headHalf, by - ux * headHalf]
    ].map(p => p.join(",")).join(" "))
    .attr("fill", "#000000");
});
</script>
</body>
</html>
